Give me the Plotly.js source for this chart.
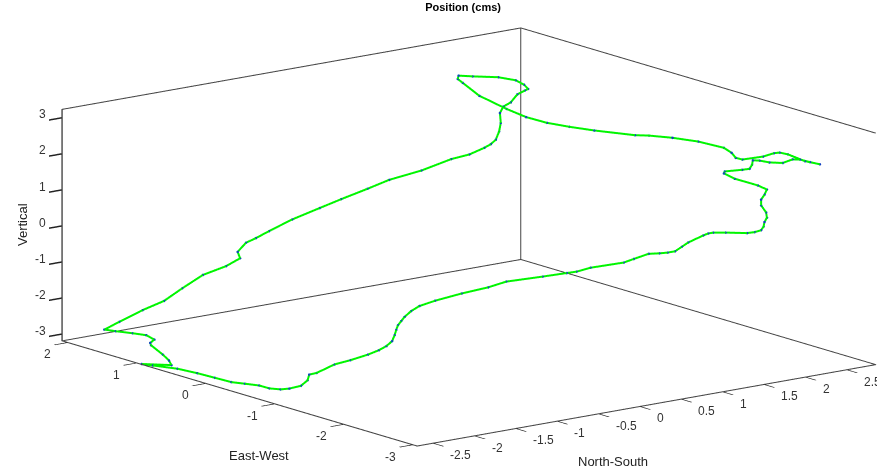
<!DOCTYPE html>
<html><head><meta charset="utf-8">
<script src="https://cdn.plot.ly/plotly-3.0.1.min.js"></script>
<style>html,body{margin:0;padding:0;background:#fff}#c{width:877px;height:468px}</style>
</head><body><div id="c"></div>
<script>
var eastWest = [
1.58,1.58,1.58,1.58,1.58,1.58,1.58,1.58,1.58,1.58,
1.58,1.58,1.58,1.58,1.58,1.58,1.58,1.58,1.58,1.58,
1.58,1.58,1.58,1.58,1.58,1.58,1.58,1.58,1.58,1.58,
1.58,1.58,1.58,1.58,1.58,1.58,1.58,1.58,1.58,1.58,
1.08,1.08,1.08,0.08,0.08,0.08,-0.92,-0.92,-0.92,
-1.92,-1.92,-1.92,-1.92,-1.92,-1.92,-1.92,
-2.42,-2.42,-2.42,-2.42,-2.42,-2.42,-2.42,-2.42,-2.42,-2.42,
-2.42,-2.42,-2.42,-2.42,-2.42,-2.42,-2.42,-2.42,-2.42,-2.42,
-2.42,-2.42,-2.42,-2.42,-2.42,-2.42,-2.42,-2.42,-2.42,-2.42,
-2.42,-2.42,-2.42,-2.42,-2.42,-2.42,-2.42,-2.42,-2.42,-2.42,
-2.42,-2.42,-2.42,-2.42,-2.42,-2.42,-2.42,-2.42,-2.42,-2.42,
-2.42,-2.42,-2.42,-2.42,-2.42,
-1.92,-1.62,-1.32,-1.22,-1.12,-0.92,-0.92,-0.92,-0.92,-0.92,-0.72,-0.62,-0.52,-0.42,-0.32,-0.02,0.28,0.58,0.78,0.93,0.68,0.68,0.78,0.88,0.88,0.88,1.08,1.18,1.38,1.58];
var northSouth = [
-2.60,-2.42,-2.14,-1.88,-1.66,-1.41,-1.13,-0.96,-0.99,-0.89,
-0.77,-0.61,-0.33,0.00,0.26,0.58,0.84,1.23,1.59,1.81,
1.99,2.07,2.13,2.17,2.19,2.18,2.22,2.31,2.39,2.48,
2.52,2.47,2.37,2.16,1.85,1.68,1.67,1.73,1.93,2.26,
2.08,2.33,2.60,2.07,2.56,2.73,2.18,2.49,2.80,
2.06,2.11,2.19,2.44,2.57,2.64,2.74,
2.53,2.71,2.59,2.47,2.38,2.26,2.10,1.98,1.90,1.89,
1.86,1.77,1.56,1.55,1.68,1.96,2.07,2.04,2.00,2.00,
2.06,2.07,2.04,2.03,2.00,1.92,1.83,1.57,1.42,1.36,
1.30,1.12,1.04,0.96,0.87,0.77,0.64,0.46,0.34,-0.06,
-0.23,-0.35,-0.64,-1.08,-1.30,-1.62,-1.94,-2.13,-2.23,-2.31,
-2.35,-2.39,-2.41,-2.43,-2.46,
-2.11,-1.95,-1.83,-1.96,-2.07,-2.12,-2.21,-2.23,-2.31,-2.45,-2.39,-2.44,-2.48,-2.57,-2.65,-2.60,-2.56,-2.55,-2.68,-2.69,-2.54,-2.57,-2.56,-2.62,-2.63,-2.58,-2.51,-2.59,-2.63,-2.60];
var vertical = [
-2.63,-2.49,-2.28,-2.13,-1.87,-1.60,-1.47,-1.32,-1.13,-0.92,
-0.84,-0.71,-0.50,-0.32,-0.18,-0.02,0.12,0.22,0.39,0.43,
0.54,0.61,0.71,0.92,1.15,1.43,1.59,1.67,1.86,1.93,
1.96,2.10,2.26,2.43,2.58,2.67,2.58,2.45,2.01,1.51,
1.64,1.38,1.16,1.84,1.51,1.43,2.16,1.93,1.63,
2.36,2.20,2.12,2.10,2.14,2.13,2.04,
2.22,2.06,2.17,2.29,2.33,2.28,2.36,2.46,2.50,2.38,
2.28,2.29,2.33,2.28,2.08,1.78,1.62,1.49,1.37,1.21,
0.99,0.84,0.73,0.61,0.52,0.50,0.51,0.63,0.69,0.69,
0.66,0.54,0.45,0.36,0.36,0.38,0.42,0.35,0.30,0.32,
0.28,0.29,0.31,0.35,0.28,0.24,0.17,0.10,0.00,-0.13,
-0.23,-0.33,-0.45,-0.59,-0.74,
-1.30,-1.65,-1.99,-2.15,-2.28,-2.61,-2.62,-2.77,-2.89,-2.91,-3.07,-3.08,-3.04,-3.01,-2.99,-3.06,-3.12,-3.17,-3.14,-3.18,-3.13,-2.99,-2.89,-2.66,-2.59,-2.52,-2.54,-2.51,-2.55,-2.63];

var rangeNS = [-2.70, 2.85];
var rangeEW = [-3.07, 2.08];
var rangeV = [-3.19, 3.24];
var ticksNS = [-2.5,-2,-1.5,-1,-0.5,0,0.5,1,1.5,2,2.5];
var ticksEW = [-3,-2,-1,0,1,2];
var ticksV = [-3,-2,-1,0,1,2,3];

var eps=0.004;
var n0=rangeNS[0]+eps,n1=rangeNS[1]-eps,e0=rangeEW[0]+eps,e1=rangeEW[1]-eps,v0=rangeV[0]+eps,v1=rangeV[1]-eps;
var boxX=[n0,n1,n1,n0,n0,null,n1,n1,n1,null,n1,n1,n0,n0,null,n0,n0];
var boxY=[e1,e1,e0,e0,e1,null,e1,e1,e0,null,e1,e1,e1,e1,null,e1,e1];
var boxZ=[v0,v0,v0,v0,v0,null,v0,v1,v1,null,v0,v1,v1,v0,null,v0,v1];

var tickFont={family:'Liberation Sans',size:12,color:'#333'};
var nameFont={family:'Liberation Sans',size:13,color:'#222'};
function ax(range,ticks){return {
  title:{text:''},showticklabels:false,
  range:range,autorange:false,tickmode:'array',tickvals:ticks,
  ticks:'outside',ticklen:16,tickcolor:'#222',tickwidth:3,
  showgrid:false,zeroline:false,showbackground:false,showspikes:false,showline:true,linecolor:'#444',linewidth:1
};}
var sceneNotes=[];
ticksEW.forEach(function(t){sceneNotes.push({x:n0,y:t,z:v0,text:String(t),showarrow:false,xanchor:'right',yanchor:'middle',xshift:-14.5,yshift:-12,font:tickFont});});
ticksNS.forEach(function(t){sceneNotes.push({x:t,y:e0,z:v0,text:String(t),showarrow:false,xanchor:'left',yanchor:'middle',xshift:14.8,yshift:-12,font:tickFont});});
ticksV.forEach(function(t){sceneNotes.push({x:n0,y:e1,z:t,text:String(t),showarrow:false,xanchor:'right',yanchor:'middle',xshift:-14.5,yshift:3.5,font:tickFont});});

var data=[
 {type:'scatter3d',mode:'lines',x:boxX,y:boxY,z:boxZ,line:{color:'#444',width:2},hoverinfo:'skip',showlegend:false,connectgaps:false},
 {type:'scatter3d',mode:'lines',x:northSouth,y:eastWest,z:vertical,line:{color:'#00f500',width:4},showlegend:false},
 {type:'scatter3d',mode:'markers',x:northSouth,y:eastWest,z:vertical,marker:{color:'#1040c0',size:1.5,line:{width:0}},showlegend:false}
];
var layout={
 width:877,height:468,margin:{l:0,r:0,t:0,b:0},paper_bgcolor:'#fff',showlegend:false,
 title:{text:'<b>Position (cms)</b>',font:{family:'Liberation Sans',size:11,color:'#000'},x:0.528,xanchor:'center',y:0.984,yanchor:'middle'},
 annotations:[
  {xref:'paper',yref:'paper',x:259/877,y:1-455/468,xanchor:'center',yanchor:'middle',text:'East-West',showarrow:false,font:nameFont},
  {xref:'paper',yref:'paper',x:613/877,y:1-461/468,xanchor:'center',yanchor:'middle',text:'North-South',showarrow:false,font:nameFont},
  {xref:'paper',yref:'paper',x:22/877,y:1-225/468,xanchor:'center',yanchor:'middle',text:'Vertical',textangle:-90,showarrow:false,font:nameFont}
 ],
 scene:{domain:{x:[0,1],y:[0,0.987]},
  xaxis:ax(rangeNS,ticksNS),yaxis:ax(rangeEW,ticksEW),zaxis:ax(rangeV,ticksV),
  annotations:sceneNotes,
  aspectmode:'manual',aspectratio:{x:2.514,y:2.514,z:1.031},
  camera:{projection:{type:'orthographic'},up:{x:0,y:0,z:1},center:{x:-0.1045,y:0.0805,z:0},eye:{x:-1.2345,y:-1.3795,z:0.435}}}
};
Plotly.newPlot('c',data,layout,{displayModeBar:false});
</script></body></html>
